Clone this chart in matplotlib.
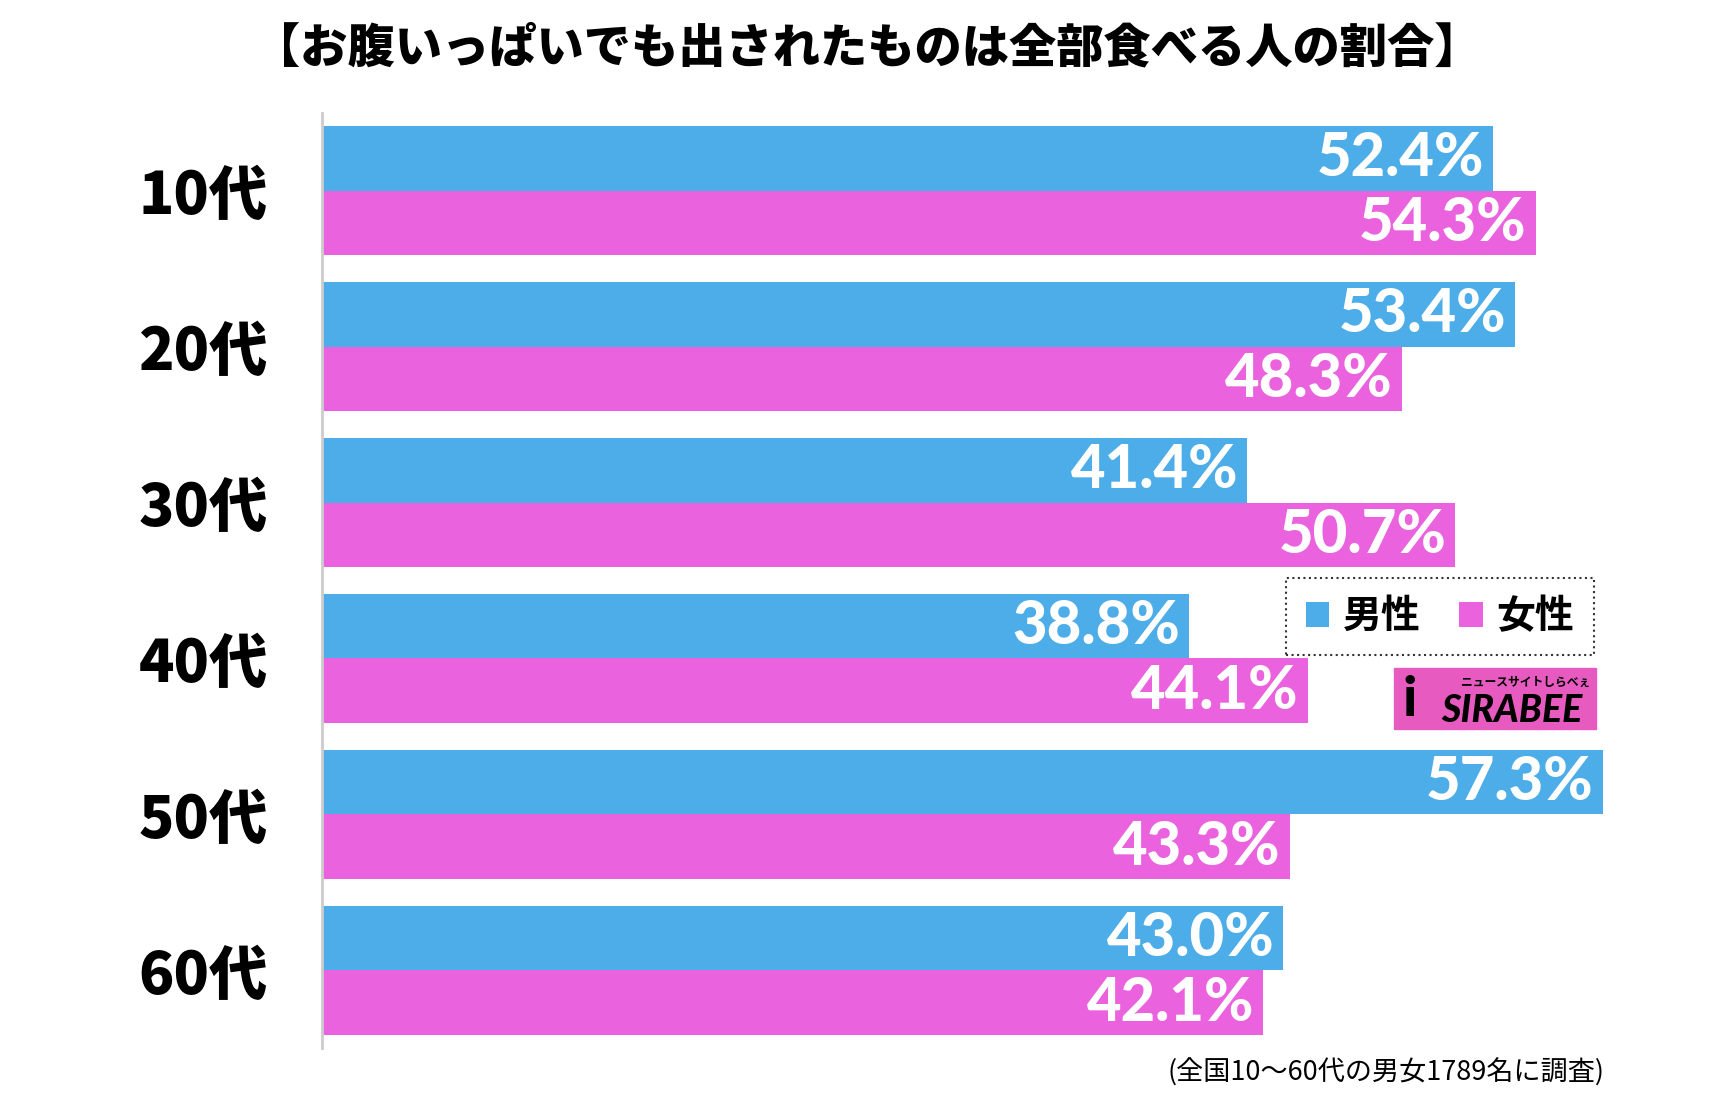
import numpy as np
import matplotlib.pyplot as plt
from matplotlib.patches import Rectangle

# data
ages = ['10代', '20代', '30代', '40代', '50代', '60代']
men = [52.4, 53.4, 41.4, 38.8, 57.3, 43.0]
women = [54.3, 48.3, 50.7, 44.1, 43.3, 42.1]
series = ['男性', '女性']
title = '【お腹いっぱいでも出されたものは全部食べる人の割合】'
note = '(全国10〜60代の男女1789名に調査)'

blue = '#4DADE8'
pink = '#EB62DF'
cjk = ['Noto Sans CJK JP', 'DejaVu Sans']
num = ['Lato', 'Liberation Sans', 'DejaVu Sans']

fig = plt.figure(figsize=(17.34, 11.02), dpi=100)
ax = fig.add_axes([322/1734, 1-1048/1102, 1-322/1734, 935/1102])

y = np.arange(len(ages))
h = 0.413
b1 = ax.barh(y - h/2, men, height=h, color=blue, label=series[0])
b2 = ax.barh(y + h/2, women, height=h, color=pink, label=series[1])

for yy, v in zip(y - h/2, men):
    ax.text(v - 0.4, yy, f'{v:.1f}%', ha='right', va='center',
            color='white', fontsize=43, fontweight='black', family=num)
for yy, v in zip(y + h/2, women):
    ax.text(v - 0.4, yy, f'{v:.1f}%', ha='right', va='center',
            color='white', fontsize=43, fontweight='black', family=num)

ax.set_xlim(0, 1412/22.35)
ax.set_ylim(len(ages) - 0.503, -0.497)
ax.set_yticks(y)
ax.set_yticklabels(ages, fontsize=42, fontweight='heavy', family=cjk)
ax.tick_params(axis='y', length=0, pad=39)
ax.set_xticks([])
for s in ['top', 'right', 'bottom']:
    ax.spines[s].set_visible(False)
ax.spines['left'].set_color('#cccccc')
ax.spines['left'].set_linewidth(2)

fig.text(0.5, 1-48/1102, title, ha='center', va='center',
         fontsize=34, fontweight='heavy', family=cjk)
fig.text(1604/1734, 1-1073/1102, note, ha='right', va='center',
         fontsize=19.5, family=cjk)

leg = ax.legend(handles=[b1, b2], loc='center', ncol=2,
                bbox_to_anchor=(1440/1734, 1-616.5/1102),
                bbox_transform=fig.transFigure,
                prop={'family': cjk, 'weight': 'bold', 'size': 28},
                handlelength=0.6, handleheight=0.6, handletextpad=0.35,
                columnspacing=1.0, borderpad=0.5, fancybox=False,
                frameon=True, borderaxespad=0)
fr = leg.get_frame()
fr.set_edgecolor('black')
fr.set_linestyle(':')
fr.set_linewidth(1.5)

# logo
fig.patches.append(Rectangle((1394/1734, 1-729/1102), 202/1734, 61/1102,
                             transform=fig.transFigure, color='#E75AC0'))
fig.text(1410/1734, 1-700/1102, 'i', ha='center', va='center',
         fontsize=40, fontweight='black', family=num)
fig.text(1512/1734, 1-710/1102, 'SIRABEE', ha='center', va='center',
         fontsize=27, fontweight='black', style='italic', family=num)
fig.text(1590/1734, 1-682/1102, 'ニュースサイトしらべぇ', ha='right',
         va='center', fontsize=8.5, fontweight='bold', family=cjk)

fig.savefig('out.png', dpi=100)
